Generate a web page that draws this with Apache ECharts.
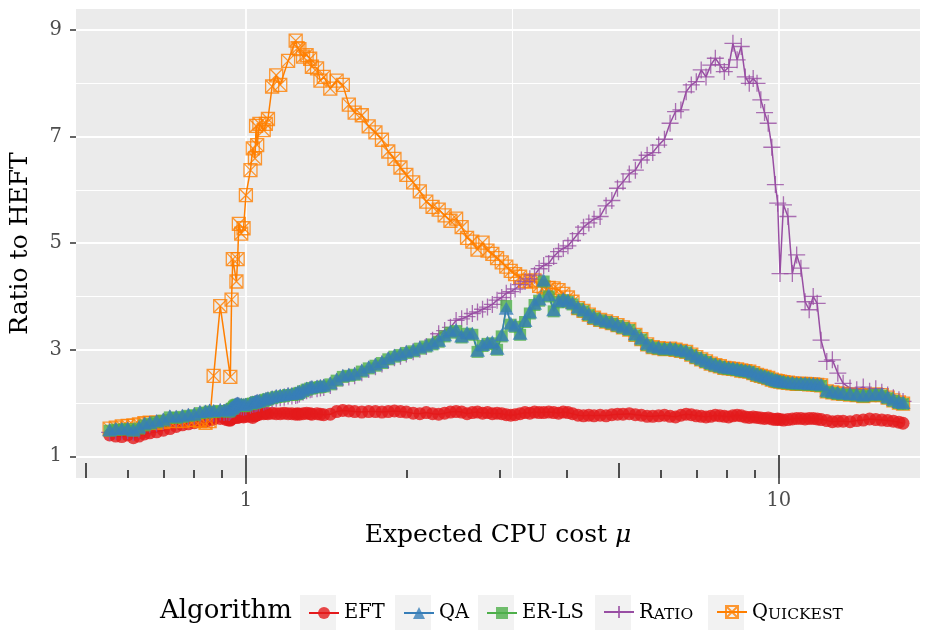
<!DOCTYPE html>
<html>
<head>
<meta charset="utf-8">
<script src="https://cdn.jsdelivr.net/npm/echarts@6.0.0/dist/echarts.min.js"></script>
<style>
  html, body { margin: 0; padding: 0; background: #fff; }
  #chart { width: 928px; height: 631px; }
</style>
</head>
<body>
<div id="chart"></div>
<script>
// expected CPU cost, shared by every algorithm
const muValues = [
  0.555, 0.57, 0.585, 0.6, 0.615, 0.63, 0.645, 0.66, 0.68, 0.7,
  0.72, 0.74, 0.76, 0.78, 0.8, 0.82, 0.84, 0.855, 0.87, 0.895,
  0.91, 0.92, 0.93, 0.935, 0.94, 0.945, 0.95, 0.955, 0.96, 0.965,
  0.97, 0.98, 0.99, 1, 1.02, 1.03, 1.04, 1.045, 1.05, 1.06,
  1.08, 1.09, 1.1, 1.12, 1.14, 1.16, 1.18, 1.2, 1.22, 1.24,
  1.25, 1.26, 1.28, 1.3, 1.32, 1.33, 1.36, 1.38, 1.4, 1.44,
  1.48, 1.52, 1.56, 1.6, 1.65, 1.7, 1.75, 1.8, 1.85, 1.9,
  1.95, 2, 2.06, 2.12, 2.18, 2.24, 2.3, 2.36, 2.42, 2.48,
  2.54, 2.6, 2.66, 2.72, 2.78, 2.84, 2.9, 2.96, 3.02, 3.08,
  3.14, 3.2, 3.27, 3.34, 3.41, 3.48, 3.55, 3.62, 3.7, 3.78,
  3.86, 3.94, 4.02, 4.1, 4.2, 4.3, 4.4, 4.5, 4.62, 4.74,
  4.86, 4.98, 5.1, 5.24, 5.38, 5.52, 5.66, 5.8, 5.95, 6.1,
  6.25, 6.4, 6.55, 6.7, 6.85, 7, 7.15, 7.3, 7.45, 7.6,
  7.75, 7.9, 8.05, 8.2, 8.35, 8.5, 8.65, 8.8, 8.95, 9.1,
  9.25, 9.4, 9.55, 9.7, 9.85, 9.95, 10.05, 10.2, 10.4, 10.6,
  10.8, 11, 11.2, 11.4, 11.6, 11.8, 12, 12.3, 12.6, 12.9,
  13.2, 13.6, 14, 14.4, 14.8, 15.2, 15.6, 16, 16.4, 16.8,
  17.1
]

const eftValues = [
  1.40, 1.38, 1.37, 1.40, 1.35, 1.38, 1.42, 1.44, 1.46, 1.49,
  1.52, 1.56, 1.59, 1.61, 1.63, 1.65, 1.66, 1.68, 1.70, 1.71,
  1.72, 1.69, 1.68, 1.68, 1.70, 1.72, 1.73, 1.74, 1.74, 1.73,
  1.74, 1.75, 1.74, 1.75, 1.75, 1.73, 1.76, 1.77, 1.78, 1.79,
  1.80, 1.81, 1.80, 1.81, 1.80, 1.80, 1.81, 1.80, 1.80, 1.79,
  1.80, 1.79, 1.80, 1.81, 1.80, 1.79, 1.80, 1.79, 1.78, 1.79,
  1.84, 1.86, 1.85, 1.84, 1.83, 1.84, 1.84, 1.83, 1.84, 1.85,
  1.84, 1.83, 1.81, 1.80, 1.82, 1.80, 1.79, 1.81, 1.83, 1.84,
  1.83, 1.80, 1.82, 1.83, 1.81, 1.82, 1.80, 1.81, 1.80, 1.78,
  1.77, 1.78, 1.80, 1.82, 1.81, 1.83, 1.82, 1.82, 1.83, 1.82,
  1.81, 1.83, 1.82, 1.80, 1.77, 1.76, 1.77, 1.76, 1.77, 1.76,
  1.78, 1.79, 1.79, 1.80, 1.78, 1.77, 1.75, 1.75, 1.76, 1.77,
  1.75, 1.74, 1.77, 1.79, 1.78, 1.76, 1.75, 1.74, 1.75, 1.77,
  1.76, 1.75, 1.74, 1.76, 1.77, 1.76, 1.74, 1.73, 1.74, 1.73,
  1.72, 1.71, 1.72, 1.70, 1.69, 1.70, 1.69, 1.68, 1.69, 1.70,
  1.71, 1.71, 1.70, 1.71, 1.71, 1.70, 1.69, 1.67, 1.65, 1.66,
  1.66, 1.65, 1.67, 1.68, 1.70, 1.69, 1.68, 1.67, 1.66, 1.64,
  1.62
]

const qaValues = [
  1.50, 1.52, 1.52, 1.53, 1.50, 1.55, 1.62, 1.64, 1.67, 1.70,
  1.76, 1.75, 1.77, 1.79, 1.80, 1.84, 1.85, 1.87, 1.86, 1.88,
  1.87, 1.88, 1.87, 1.90, 1.92, 1.93, 1.96, 1.98, 1.99, 2.00,
  1.99, 1.98, 1.97, 1.98, 2.01, 2.02, 2.03, 2.04, 2.05, 2.05,
  2.07, 2.09, 2.10, 2.12, 2.14, 2.15, 2.16, 2.18, 2.18, 2.19,
  2.20, 2.22, 2.25, 2.28, 2.30, 2.31, 2.32, 2.33, 2.34, 2.38,
  2.45, 2.52, 2.54, 2.56, 2.62, 2.68, 2.73, 2.78, 2.85, 2.90,
  2.93, 2.97, 3.00, 3.05, 3.09, 3.13, 3.18, 3.28, 3.35, 3.38,
  3.26, 3.33, 3.31, 2.99, 3.10, 3.14, 3.15, 3.03, 3.28, 3.78,
  3.50, 3.46, 3.31, 3.55, 3.71, 3.87, 3.95, 4.31, 4.03, 3.75,
  3.92, 3.96, 3.93, 3.88, 3.80, 3.75, 3.68, 3.62, 3.58, 3.55,
  3.52, 3.48, 3.44, 3.40, 3.30, 3.22, 3.12, 3.07, 3.05, 3.03,
  3.04, 3.02, 3.00, 2.98, 2.93, 2.88, 2.84, 2.80, 2.76, 2.73,
  2.71, 2.68, 2.67, 2.66, 2.65, 2.63, 2.62, 2.61, 2.58, 2.55,
  2.53, 2.51, 2.49, 2.46, 2.44, 2.43, 2.42, 2.41, 2.40, 2.39,
  2.38, 2.38, 2.38, 2.37, 2.37, 2.36, 2.35, 2.24, 2.22, 2.20,
  2.19, 2.18, 2.17, 2.15, 2.17, 2.18, 2.17, 2.12, 2.07, 2.03,
  2.01
]

const erlsValues = [
  1.48, 1.50, 1.50, 1.51, 1.48, 1.52, 1.58, 1.61, 1.64, 1.67,
  1.73, 1.72, 1.74, 1.76, 1.77, 1.81, 1.82, 1.84, 1.83, 1.85,
  1.84, 1.85, 1.84, 1.87, 1.89, 1.90, 1.93, 1.95, 1.96, 1.97,
  1.96, 1.95, 1.94, 1.95, 1.98, 1.99, 2.00, 2.01, 2.02, 2.02,
  2.04, 2.06, 2.07, 2.09, 2.11, 2.12, 2.13, 2.15, 2.15, 2.16,
  2.17, 2.19, 2.22, 2.25, 2.27, 2.28, 2.29, 2.30, 2.31, 2.35,
  2.42, 2.49, 2.51, 2.53, 2.59, 2.65, 2.70, 2.75, 2.82, 2.87,
  2.90, 2.94, 2.97, 3.02, 3.06, 3.10, 3.15, 3.25, 3.32, 3.35,
  3.23, 3.30, 3.28, 2.96, 3.07, 3.11, 3.12, 3.00, 3.25, 3.82,
  3.47, 3.43, 3.28, 3.52, 3.68, 3.84, 3.92, 4.28, 4.00, 3.72,
  3.89, 3.93, 3.90, 3.85, 3.77, 3.72, 3.65, 3.59, 3.55, 3.52,
  3.49, 3.45, 3.41, 3.37, 3.27, 3.19, 3.09, 3.04, 3.02, 3.00,
  3.01, 2.99, 2.97, 2.95, 2.90, 2.85, 2.81, 2.77, 2.73, 2.70,
  2.68, 2.65, 2.64, 2.63, 2.62, 2.60, 2.59, 2.58, 2.55, 2.52,
  2.50, 2.48, 2.46, 2.43, 2.41, 2.40, 2.39, 2.38, 2.37, 2.36,
  2.35, 2.35, 2.35, 2.34, 2.34, 2.33, 2.32, 2.21, 2.19, 2.17,
  2.16, 2.15, 2.14, 2.12, 2.14, 2.15, 2.14, 2.09, 2.04, 2.00,
  1.98
]

const ratioValues = [
  1.45, 1.47, 1.47, 1.48, 1.45, 1.50, 1.57, 1.59, 1.62, 1.65,
  1.71, 1.70, 1.72, 1.74, 1.75, 1.79, 1.80, 1.82, 1.81, 1.83,
  1.82, 1.83, 1.82, 1.85, 1.87, 1.88, 1.91, 1.93, 1.94, 1.95,
  1.94, 1.93, 1.92, 1.93, 1.96, 1.97, 1.98, 1.99, 2.00, 2.00,
  2.02, 2.04, 2.05, 2.07, 2.09, 2.10, 2.11, 2.13, 2.13, 2.14,
  2.15, 2.17, 2.20, 2.23, 2.25, 2.26, 2.27, 2.28, 2.29, 2.33,
  2.40, 2.47, 2.49, 2.51, 2.57, 2.63, 2.68, 2.73, 2.80, 2.85,
  2.88, 2.92, 2.96, 3.01, 3.06, 3.18, 3.30, 3.36, 3.42, 3.55,
  3.58, 3.62, 3.68, 3.71, 3.76, 3.80, 3.85, 3.93, 3.98, 4.06,
  4.09, 4.14, 4.22, 4.28, 4.33, 4.40, 4.52, 4.58, 4.62, 4.75,
  4.84, 4.90, 4.95, 5.05, 5.18, 5.30, 5.38, 5.45, 5.50, 5.70,
  5.80, 6.03, 6.15, 6.30, 6.37, 6.56, 6.65, 6.70, 6.84, 6.95,
  7.25, 7.47, 7.50, 7.84, 7.97, 8.03, 8.25, 8.12, 8.34, 8.47,
  8.35, 8.22, 8.30, 8.75, 8.44, 8.69, 8.12, 8.00, 8.09, 8.00,
  7.69, 7.45, 7.25, 6.80, 6.10, 5.75, 4.43, 5.72, 5.50, 4.43,
  4.78, 4.53, 3.90, 3.75, 4.00, 3.87, 3.18, 2.78, 2.81, 2.56,
  2.37, 2.28, 2.25, 2.30, 2.22, 2.27, 2.20, 2.15, 2.10, 2.06,
  2.03
]

// null = no point for that cost
const quickestValues = [
  1.52, 1.54, 1.56, 1.57, 1.58, 1.60, 1.62, 1.63, 1.63, 1.64,
  1.66, 1.67, 1.66, 1.69, 1.68, 1.66, 1.63, 1.66, 2.51, 3.82,
  null, null, null, 2.49, 3.94, 4.70, null, null, 4.28, 4.70,
  5.36, 5.18, 5.28, 5.90, 6.37, 6.78, 6.59, 7.20, 6.84, 7.24,
  7.12, 7.24, 7.33, 7.94, 8.15, 7.97, null, 8.42, null, 8.80,
  8.66, 8.64, 8.50, 8.53, 8.46, 8.31, 8.28, 8.05, 8.12, 7.90,
  8.05, 7.97, 7.60, 7.45, 7.40, 7.19, 7.08, 6.94, 6.72, 6.58,
  6.42, 6.28, 6.14, 5.97, 5.78, 5.68, 5.63, 5.52, 5.42, 5.46,
  5.30, 5.10, 5.03, 4.88, 5.01, 4.86, 4.80, 4.72, 4.64, 4.56,
  4.48, 4.42, 4.37, 4.29, 4.28, 4.30, 4.20, 4.17, 4.16, 4.15,
  4.12, 4.05, 3.98, 3.90, 3.78, 3.73, 3.66, 3.60, 3.56, 3.53,
  3.50, 3.46, 3.42, 3.38, 3.28, 3.20, 3.10, 3.05, 3.03, 3.01,
  3.02, 3.00, 2.98, 2.96, 2.91, 2.86, 2.82, 2.78, 2.74, 2.71,
  2.69, 2.66, 2.65, 2.64, 2.63, 2.61, 2.60, 2.59, 2.56, 2.53,
  2.51, 2.49, 2.47, 2.44, 2.42, 2.41, 2.40, 2.39, 2.38, 2.37,
  2.36, 2.36, 2.36, 2.35, 2.35, 2.34, 2.33, 2.22, 2.20, 2.18,
  2.17, 2.16, 2.15, 2.13, 2.15, 2.16, 2.15, 2.10, 2.05, 2.01,
  1.99
]

const yTickValues = [1, 3, 5, 7, 9]
const yMinorValues = [2, 4, 6, 8]
const xTickValues = [1, 10]
const xMinorValues = [3.1623]
const logTicksLong = [1, 10]
const logTicksMid = [0.5, 5]
const logTicksShort = [0.6, 0.7, 0.8, 0.9, 2, 3, 4, 6, 7, 8, 9]

const FONT = "'DejaVu Serif', serif"
const X_MIN = 0.48
const X_MAX = 18.4
const Y_MIN = 0.593
const Y_MAX = 9.394

const plusPath = 'path://M0,5L10,5M5,0L5,10'
const boxCrossPath = 'path://M0,0L10,0L10,10L0,10ZM0,0L10,10M10,0L0,10'

// drawing order: later series sit on top
const seriesDefs = [
  { name: 'EFT', values: eftValues, color: '#E41A1C', symbol: 'circle', size: 13, filled: true },
  { name: 'Quickest', values: quickestValues, color: '#FF7F00', symbol: boxCrossPath, size: 13, filled: false },
  { name: 'Ratio', values: ratioValues, color: '#984EA3', symbol: plusPath, size: 17, filled: false },
  { name: 'ER-LS', values: erlsValues, color: '#4DAF4A', symbol: 'rect', size: 12, filled: true },
  { name: 'QA', values: qaValues, color: '#377EB8', symbol: 'triangle', size: [15, 13], filled: true }
]

const legendItems = [
  { name: 'EFT', left: 300, label: 'EFT' },
  { name: 'QA', left: 395, label: 'QA' },
  { name: 'ER-LS', left: 478, label: 'ER-LS' },
  { name: 'Ratio', left: 595, label: '{c|R}{s|ATIO}' },
  { name: 'Quickest', left: 708, label: '{c|Q}{s|UICKEST}' }
]

function toPoints(values) {
  return muValues.map((mu, i) => [mu, values[i] == null ? '-' : values[i]])
}

function hiddenLogAxis(extra) {
  return Object.assign({
    type: 'log',
    logBase: 10,
    position: 'bottom',
    min: X_MIN,
    max: X_MAX,
    axisLine: { show: false },
    axisLabel: { show: false },
    splitLine: { show: false },
    axisTick: { show: false }
  }, extra)
}

function logTickAxis(values, length) {
  return hiddenLogAxis({
    axisTick: {
      show: true,
      inside: true,
      length: length,
      customValues: values,
      lineStyle: { color: '#1a1a1a', width: 1.5 }
    }
  })
}

const chart = echarts.init(document.getElementById('chart'))

const option = {
  animation: false,
  backgroundColor: '#ffffff',
  textStyle: { fontFamily: FONT },
  grid: {
    left: 76,
    right: 8,
    top: 9,
    bottom: 153,
    show: true,
    backgroundColor: '#ebebeb',
    borderWidth: 0
  },
  title: {
    text: 'Algorithm',
    left: 155,
    top: 593,
    textStyle: { fontFamily: FONT, fontSize: 26, fontWeight: 'normal', color: '#000' }
  },
  xAxis: [
    {
      type: 'log',
      logBase: 10,
      position: 'bottom',
      min: X_MIN,
      max: X_MAX,
      name: 'Expected CPU cost {it|μ}',
      nameLocation: 'middle',
      nameGap: 45,
      nameTextStyle: {
        fontFamily: FONT,
        fontSize: 25,
        color: '#000',
        rich: { it: { fontFamily: FONT, fontSize: 25, fontStyle: 'italic', color: '#000' } }
      },
      axisLine: { show: false },
      axisTick: { show: true, length: 6, customValues: xTickValues, lineStyle: { color: '#333', width: 1.5 } },
      axisLabel: {
        customValues: xTickValues,
        margin: 13,
        fontFamily: FONT,
        fontSize: 19.5,
        color: '#4d4d4d'
      },
      splitLine: { show: true, lineStyle: { color: '#ffffff', width: 1.8 } }
    },
    hiddenLogAxis({
      axisTick: { show: false, customValues: xMinorValues },
      splitLine: { show: true, lineStyle: { color: '#ffffff', width: 1 } }
    }),
    logTickAxis(logTicksLong, 23),
    logTickAxis(logTicksMid, 15),
    logTickAxis(logTicksShort, 8)
  ],
  yAxis: [
    {
      type: 'value',
      min: Y_MIN,
      max: Y_MAX,
      name: 'Ratio to HEFT',
      nameLocation: 'middle',
      nameGap: 43,
      nameTextStyle: { fontFamily: FONT, fontSize: 25, color: '#000' },
      axisLine: { show: false },
      axisTick: { show: true, length: 6, customValues: yTickValues, lineStyle: { color: '#333', width: 1.5 } },
      axisLabel: {
        customValues: yTickValues,
        margin: 14,
        fontFamily: FONT,
        fontSize: 19.5,
        color: '#4d4d4d'
      },
      splitLine: { show: true, lineStyle: { color: '#ffffff', width: 1.8 } }
    },
    {
      type: 'value',
      min: Y_MIN,
      max: Y_MAX,
      axisLine: { show: false },
      axisLabel: { show: false },
      axisTick: { show: false, customValues: yMinorValues },
      splitLine: { show: true, lineStyle: { color: '#ffffff', width: 1 } }
    }
  ],
  legend: legendItems.map(item => ({
    data: [item.name],
    left: item.left + 3,
    top: 598,
    itemWidth: 30,
    itemHeight: 15,
    selectedMode: false,
    formatter: () => item.label,
    textStyle: {
      fontFamily: FONT,
      fontSize: 19.5,
      color: '#000',
      rich: {
        c: { fontFamily: FONT, fontSize: 19.5, color: '#000', verticalAlign: 'bottom', lineHeight: 22 },
        s: { fontFamily: FONT, fontSize: 15.5, color: '#000', verticalAlign: 'bottom', lineHeight: 22 }
      }
    }
  })),
  graphic: legendItems.map(item => ({
    type: 'rect',
    left: item.left,
    top: 595,
    shape: { width: 36, height: 35 },
    style: { fill: '#f2f2f2' },
    z: -10
  })),
  series: seriesDefs.map(d => ({
    type: 'line',
    name: d.name,
    data: toPoints(d.values),
    xAxisIndex: 0,
    yAxisIndex: 0,
    connectNulls: true,
    symbol: d.symbol,
    symbolSize: d.size,
    lineStyle: { color: d.color, width: 1.5 },
    itemStyle: d.filled
      ? { color: d.color, opacity: 0.8 }
      : { color: 'rgba(0,0,0,0)', borderColor: d.color, borderWidth: 1.3, opacity: 0.8 },
    emphasis: { disabled: true }
  }))
}

chart.setOption(option)
</script>
</body>
</html>
